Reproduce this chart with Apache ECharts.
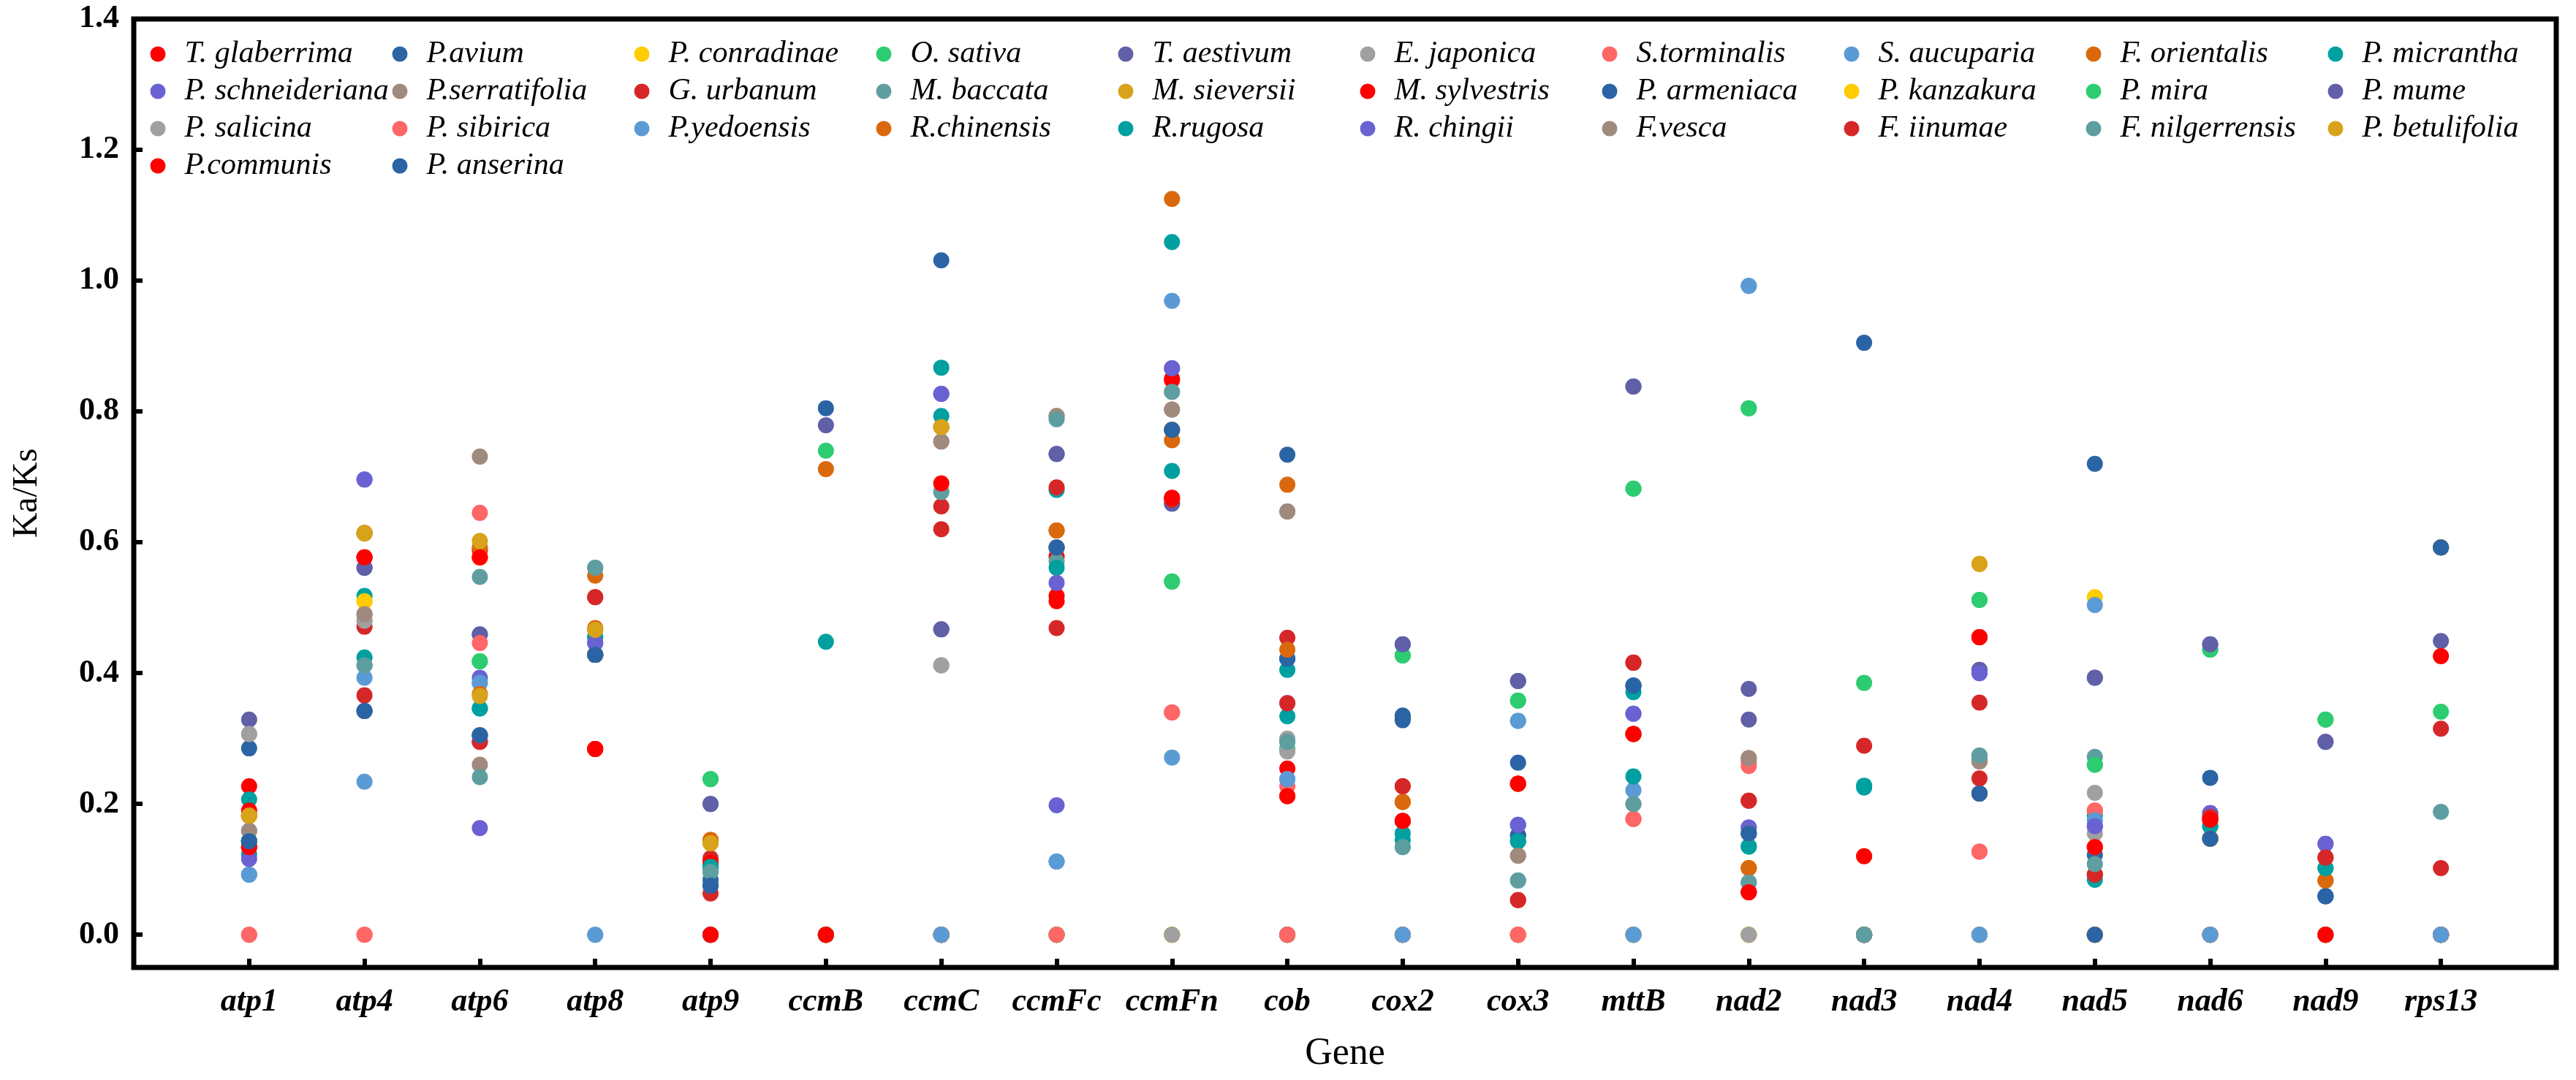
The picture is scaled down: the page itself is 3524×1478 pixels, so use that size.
<!DOCTYPE html>
<html>
<head>
<meta charset="utf-8">
<title>Ka/Ks by gene</title>
<script src="https://cdn.jsdelivr.net/npm/echarts@6/dist/echarts.min.js"></script>
<style>
  html, body { margin: 0; padding: 0; background: #fff; }
  #chart { width: 3524px; height: 1478px; }
</style>
</head>
<body>
<div id="chart"></div>
<script>
const genes = ['atp1', 'atp4', 'atp6', 'atp8', 'atp9', 'ccmB', 'ccmC', 'ccmFc', 'ccmFn', 'cob',
    'cox2', 'cox3', 'mttB', 'nad2', 'nad3', 'nad4', 'nad5', 'nad6', 'nad9', 'rps13'];

const species = [
    'T. glaberrima', 'P.avium', 'P. conradinae', 'O. sativa', 'T. aestivum',
    'E. japonica', 'S.torminalis', 'S. aucuparia', 'F. orientalis', 'P. micrantha',
    'P. schneideriana', 'P.serratifolia', 'G. urbanum', 'M. baccata', 'M. sieversii',
    'M. sylvestris', 'P. armeniaca', 'P. kanzakura', 'P. mira', 'P. mume',
    'P. salicina', 'P. sibirica', 'P.yedoensis', 'R.chinensis', 'R.rugosa',
    'R. chingii', 'F.vesca', 'F. iinumae', 'F. nilgerrensis', 'P. betulifolia',
    'P.communis', 'P. anserina'
];

// 15 colours, repeated in legend order
const palette = ['#ff0000', '#2a64a5', '#ffcc00', '#2ecc71', '#6060a8',
    '#a0a0a0', '#ff6666', '#5b9bd5', '#d9690c', '#00a0a0',
    '#6a62d2', '#a08a7e', '#d62728', '#5f9ea0', '#d8a31a'];

// Ka/Ks values, one row per species, columns follow genes
const kaks = [
    [0.227, 0.577, 0.588, 0.284, 0.110, 0, 0, 0.578, 0.668, 0.254, 0.174, 0.231, 0.307, 0.065, 0, 0.455, 0.134, 0.176, 0, 0],          // T. glaberrima
    [0.285, 0.342, 0.305, 0.428, 0.084, 0, 0, 0.592, 0.772, 0.422, 0.335, 0.152, 0.381, 0.155, 0, 0.216, 0.720, 0.240, 0.059, 0],      // P.avium
    [0.182, 0.510, 0.577, 0.428, 0, 0, 0, 0, 0, 0, 0, 0, 0, 0, 0, 0, 0.516, 0, 0, 0],                                                   // P. conradinae
    [0.143, 0.614, 0.418, 0.428, 0.238, 0.740, 0, 0, 0.540, 0.284, 0.427, 0.358, 0.682, 0.805, 0.385, 0.512, 0.260, 0.436, 0.329, 0.341], // O. sativa
    [0.329, 0.561, 0.459, 0.428, 0.200, 0.779, 0.467, 0.735, 0.659, 0, 0.444, 0.388, 0.838, 0.376, 0, 0.405, 0.393, 0.444, 0.295, 0.449], // T. aestivum
    [0.307, 0.480, 0.305, 0.428, 0, 0, 0.412, 0, 0, 0.300, 0, 0, 0, 0, 0, 0, 0.217, 0, 0, 0],                                          // E. japonica
    [0, 0, 0.645, 0.428, 0, 0, 0, 0, 0.340, 0.227, 0, 0, 0.177, 0.265, 0, 0.127, 0.190, 0, 0, 0],                                      // S.torminalis
    [0.092, 0.393, 0.385, 0, 0, 0, 0, 0.112, 0.969, 0.238, 0, 0.327, 0.221, 0.992, 0, 0, 0.504, 0, 0, 0],                              // S. aucuparia
    [0.182, 0.614, 0.592, 0.549, 0.145, 0, 0, 0.618, 1.125, 0.688, 0.203, 0, 0, 0.102, 0, 0, 0, 0, 0.083, 0],                          // F. orientalis
    [0.207, 0.518, 0.346, 0.455, 0.104, 0, 0.867, 0.680, 1.059, 0.405, 0.155, 0.143, 0.371, 0.135, 0.228, 0.266, 0.182, 0.166, 0.102, 0], // P. micrantha
    [0.143, 0.696, 0.393, 0.446, 0, 0, 0.827, 0.198, 0.866, 0, 0, 0.168, 0.338, 0.164, 0, 0.400, 0.166, 0.186, 0.139, 0],              // P. schneideriana
    [0.159, 0.490, 0.731, 0.428, 0, 0, 0.754, 0.793, 0.803, 0.647, 0, 0.121, 0, 0.270, 0, 0.265, 0, 0, 0, 0],                          // P.serratifolia
    [0.134, 0.471, 0.295, 0.516, 0.117, 0, 0.655, 0.469, 0.850, 0.454, 0.227, 0.053, 0.416, 0.205, 0, 0.355, 0.092, 0.180, 0.118, 0.102], // G. urbanum
    [0.143, 0.412, 0.547, 0.561, 0.096, 0, 0.677, 0.571, 0.830, 0.295, 0.134, 0.083, 0.200, 0.080, 0, 0.274, 0.272, 0, 0, 0],          // M. baccata
    [0.182, 0.614, 0.602, 0.466, 0.140, 0, 0.776, 0, 0, 0, 0, 0, 0, 0, 0, 0.567, 0, 0, 0, 0],                                          // M. sieversii
    [0.190, 0.577, 0.577, 0.284, 0.110, 0, 0, 0.518, 0.848, 0.212, 0.174, 0.231, 0.307, 0.065, 0, 0.455, 0.134, 0.176, 0, 0],          // M. sylvestris
    [0.143, 0.342, 0.305, 0.428, 0.075, 0, 0, 0.592, 0.772, 0.422, 0.328, 0.152, 0.381, 0.155, 0, 0.216, 0.122, 0.147, 0.059, 0],      // P. armeniaca
    [0.182, 0.510, 0.577, 0.428, 0, 0, 0, 0, 0, 0, 0, 0, 0, 0, 0, 0, 0.134, 0, 0, 0],                                                   // P. kanzakura
    [0.143, 0.614, 0.418, 0.428, 0.238, 0, 0, 0, 0.540, 0.284, 0.427, 0.358, 0.682, 0.805, 0, 0.512, 0.260, 0.436, 0.329, 0],          // P. mira
    [0.143, 0.561, 0.459, 0.428, 0.200, 0, 0.467, 0.735, 0.659, 0, 0.444, 0.388, 0.838, 0.329, 0, 0.405, 0.393, 0.444, 0.295, 0],      // P. mume
    [0.307, 0.480, 0.305, 0.428, 0, 0, 0.412, 0, 0, 0.280, 0, 0, 0, 0, 0, 0, 0.155, 0, 0, 0],                                          // P. salicina
    [0, 0, 0.446, 0.428, 0, 0, 0, 0, 0.340, 0, 0, 0, 0.177, 0.258, 0, 0.127, 0.190, 0, 0, 0],                                          // P. sibirica
    [0.092, 0.234, 0.385, 0, 0, 0, 0, 0.112, 0.271, 0.238, 0, 0.327, 0, 0.992, 0, 0, 0.175, 0, 0, 0],                                  // P.yedoensis
    [0.182, 0.614, 0.368, 0.469, 0.145, 0.712, 0.776, 0.618, 0.756, 0.436, 0.203, 0.231, 0.307, 0.102, 0, 0.216, 0, 0.147, 0.083, 0.592], // R.chinensis
    [0.123, 0.424, 0.346, 0.455, 0.104, 0.448, 0.793, 0.561, 0.709, 0.334, 0.145, 0.143, 0.242, 0.135, 0.225, 0.266, 0.084, 0.166, 0.102, 0.592], // R.rugosa
    [0.116, 0.696, 0.163, 0.446, 0, 0, 0.827, 0.538, 0.866, 0.354, 0.174, 0.168, 0.338, 0.164, 0, 0.400, 0.166, 0.186, 0.139, 0.592],  // R. chingii
    [0.159, 0.490, 0.260, 0.428, 0, 0, 0.754, 0.793, 0.803, 0.647, 0.174, 0.121, 0.307, 0.270, 0, 0.265, 0, 0.147, 0, 0.592],          // F.vesca
    [0.134, 0.366, 0.295, 0.516, 0.063, 0, 0.620, 0.684, 0.665, 0.354, 0.227, 0.053, 0.416, 0.205, 0.289, 0.239, 0.092, 0.180, 0.118, 0.315], // F. iinumae
    [0.143, 0.412, 0.241, 0.561, 0.096, 0, 0.677, 0.788, 0.830, 0.295, 0.134, 0.083, 0.200, 0.080, 0, 0.274, 0.108, 0.147, 0, 0.188],  // F. nilgerrensis
    [0.182, 0.614, 0.365, 0.466, 0.140, 0, 0.776, 0.592, 0.772, 0.212, 0.174, 0.231, 0.307, 0.155, 0.120, 0.567, 0, 0.147, 0, 0.592],  // P. betulifolia
    [0.134, 0.577, 0.577, 0.284, 0, 0, 0.690, 0.510, 0.668, 0.212, 0.174, 0.231, 0.307, 0.065, 0.120, 0.455, 0.134, 0.176, 0, 0.426],  // P.communis
    [0.143, 0.342, 0.305, 0.428, 0.075, 0.805, 1.031, 0.592, 0.772, 0.734, 0.332, 0.263, 0.381, 0.155, 0.905, 0.216, 0, 0.147, 0.059, 0.592] // P. anserina
];

const yTicks = [0, 0.2, 0.4, 0.6, 0.8, 1.0, 1.2, 1.4];

const serif = 'Liberation Serif';
const chart = echarts.init(document.getElementById('chart'), null, {renderer: 'canvas'});

const series = species.map((name, i) => ({
    name: name,
    type: 'scatter',
    symbol: 'circle',
    symbolSize: 22,
    itemStyle: {color: palette[i % palette.length], opacity: 1},
    emphasis: {disabled: true},
    data: genes.map((g, j) => [g, kaks[i][j]])
}));

// legend laid out as a 10-column grid: one legend component per entry
const legendCol0 = 216, legendColStep = 331;
const legendRow0 = 75, legendRowStep = 51;
const legends = species.map((name, i) => ({
    data: [name],
    left: legendCol0 + (i % 10) * legendColStep - 10.5,
    top: legendRow0 + Math.floor(i / 10) * legendRowStep - 22,
    padding: 0,
    itemWidth: 21,
    itemHeight: 21,
    icon: 'circle',
    formatter: '{t|{name}}',
    textStyle: {
        color: '#000',
        rich: {
            t: {
                fontFamily: serif,
                fontStyle: 'italic',
                fontSize: 42,
                lineHeight: 44,
                color: '#000',
                padding: [0, 0, 0, 21]
            }
        }
    }
}));

const option = {
    animation: false,
    backgroundColor: '#fff',
    legend: legends,
    grid: {
        left: 183,
        right: 27,
        top: 26,
        bottom: 154,
        show: true,
        borderColor: '#000',
        borderWidth: 7,
        backgroundColor: 'transparent'
    },
    xAxis: {
        type: 'category',
        data: [''].concat(genes, ['']),
        boundaryGap: false,
        name: 'Gene',
        nameLocation: 'middle',
        nameGap: 92,
        nameTextStyle: {fontFamily: serif, fontSize: 52, color: '#000'},
        axisLine: {show: false, onZero: false},
        axisTick: {
            show: true,
            inside: true,
            length: 12,
            interval: 0,
            lineStyle: {color: '#000', width: 6}
        },
        axisLabel: {
            interval: 0,
            margin: 26,
            fontFamily: serif,
            fontStyle: 'italic',
            fontWeight: 'bold',
            fontSize: 44,
            color: '#000'
        },
        splitLine: {show: false}
    },
    yAxis: {
        type: 'value',
        min: -0.05,
        max: 1.4,
        name: 'Ka/Ks',
        nameLocation: 'middle',
        nameGap: 122,
        nameRotate: 90,
        nameTextStyle: {fontFamily: serif, fontSize: 48, color: '#000'},
        axisLine: {show: false, onZero: false},
        axisTick: {
            show: true,
            inside: true,
            length: 12,
            customValues: yTicks,
            lineStyle: {color: '#000', width: 6}
        },
        axisLabel: {
            customValues: yTicks,
            margin: 20,
            fontFamily: serif,
            fontWeight: 'bold',
            fontSize: 44,
            color: '#000',
            formatter: v => v.toFixed(1)
        },
        splitLine: {show: false}
    },
    series: series
};

chart.setOption(option);
window.addEventListener('resize', chart.resize);
</script>
</body>
</html>
